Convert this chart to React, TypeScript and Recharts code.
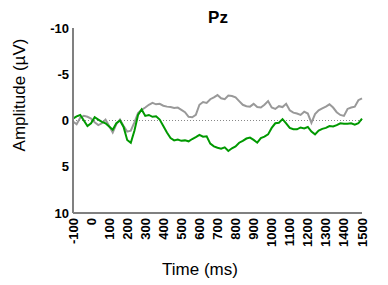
import React from 'react'
import {
  LineChart,
  Line,
  XAxis,
  YAxis,
  ReferenceLine,
  Label,
} from 'recharts'

// time points (ms)
const times = [
  -100, -80, -60, -40, -20, 0, 20, 40, 60, 80, 100, 120, 140, 160, 180, 200, 220, 240, 260, 280,
  300, 320, 340, 360, 380, 400, 420, 440, 460, 480, 500, 520, 540, 560, 580, 600, 620, 640, 660, 680,
  700, 720, 740, 760, 780, 800, 820, 840, 860, 880, 900, 920, 940, 960, 980, 1000, 1020, 1040, 1060, 1080,
  1100, 1120, 1140, 1160, 1180, 1200, 1220, 1240, 1260, 1280, 1300, 1320, 1340, 1360, 1380, 1400, 1420, 1440, 1460, 1480,
  1500,
]

// amplitude (uV), gray condition
const grayWave = [
  0.1, 0.4, -0.3, -0.5, -0.4, -0.2, 0.2, 0.5, 0.3, -0.1, 0.6, 1.3, 0.4, -0.1, 0.6, 1.2, 1.1, 0.2, -0.8, -1.15,
  -1.4, -1.7, -1.9, -1.75, -1.8, -1.6, -1.5, -1.45, -1.35, -1.4, -1.15, -0.9, -0.4, -0.35, -0.6, -1.7, -2.0, -1.9, -2.3, -2.5,
  -2.75, -2.4, -2.3, -2.7, -2.65, -2.5, -2.1, -1.7, -1.55, -1.5, -1.8, -1.45, -1.4, -1.7, -2.1, -1.4, -1.25, -1.55, -1.45, -1.8,
  -1.1, -0.85, -0.75, -0.6, -0.95, -0.75, 0.25, -0.7, -1.1, -1.3, -1.5, -1.75, -1.4, -0.9, -0.6, -0.5, -1.25, -1.4, -1.5, -2.2,
  -2.4,
]

// amplitude (uV), green condition
const greenWave = [
  -0.2, -0.45, -0.6, 0.0, 0.6, 0.3, -0.35, -0.1, 0.15, 0.3, 0.65, 1.0, 0.3, 0.0, 0.7, 2.1, 2.4, 1.1, -0.6, -1.2,
  -0.5, -0.6, -0.4, -0.45, -0.1, 0.6, 1.3, 1.9, 2.15, 2.05, 2.2, 2.15, 2.25, 2.0, 1.8, 1.55, 1.75, 1.7, 2.5, 2.8,
  2.95, 3.05, 2.9, 3.3, 3.0, 2.8, 2.4, 2.2, 1.95, 1.85, 2.1, 2.4, 1.9, 1.75, 1.5, 0.8, 0.3, 0.25, -0.15, 0.3,
  0.8, 0.95, 0.95, 0.75, 0.85, 0.7, 1.2, 1.5, 1.1, 0.9, 0.8, 0.6, 0.65, 0.5, 0.3, 0.35, 0.35, 0.3, 0.45, 0.3,
  -0.2,
]

const xTicks = [-100, 0, 100, 200, 300, 400, 500, 600, 700, 800, 900, 1000, 1100, 1200, 1300, 1400, 1500]
const yTicks = [-10, -5, 0, 5, 10]

const data = times.map((t, i) => ({ t, gray: grayWave[i], green: greenWave[i] }))

const font = 'Liberation Sans, Arial, sans-serif'

function XTick({ x, y, payload }: any) {
  return (
    <text
      x={x}
      y={y + 3}
      transform={`rotate(-90, ${x}, ${y + 3})`}
      textAnchor="end"
      dominantBaseline="central"
      fontFamily={font}
      fontWeight="bold"
      fontSize={13}
      fill="#000"
    >
      {payload.value}
    </text>
  )
}

export default function App() {
  return (
    <div style={{ position: 'absolute', left: 0, top: 0, width: 388, height: 285, background: '#fff' }}>
      <LineChart
        width={388}
        height={285}
        data={data}
        margin={{ top: 28, right: 26, bottom: 0, left: 0 }}
      >
        <XAxis
          dataKey="t"
          type="number"
          domain={[-100, 1500]}
          ticks={xTicks}
          interval={0}
          height={72}
          tickLine={false}
          tickSize={0}
          axisLine={{ stroke: '#808080', strokeWidth: 2 }}
          tick={<XTick />}
        >
          <Label
            content={() => (
              <text x={200} y={275} textAnchor="middle" fontFamily={font} fontSize={17} fill="#000">
                Time (ms)
              </text>
            )}
          />
        </XAxis>
        <YAxis
          type="number"
          domain={[-10, 10]}
          reversed
          ticks={yTicks}
          interval={0}
          width={73}
          tickLine={false}
          tickSize={0}
          tickMargin={4}
          axisLine={{ stroke: '#808080', strokeWidth: 2 }}
          tick={{ fontFamily: font, fontWeight: 'bold', fontSize: 13, fill: '#000' }}
        >
          <Label
            content={() => (
              <text
                x={19}
                y={95}
                transform="rotate(-90, 19, 95)"
                textAnchor="middle"
                dominantBaseline="central"
                fontFamily={font}
                fontSize={17}
                fill="#000"
              >
                Amplitude (µV)
              </text>
            )}
          />
        </YAxis>
        <ReferenceLine y={0} stroke="#888" strokeDasharray="1 2" strokeWidth={1} />
        <Line
          dataKey="gray"
          type="linear"
          stroke="#999999"
          strokeWidth={2}
          dot={false}
          isAnimationActive={false}
        />
        <Line
          dataKey="green"
          type="linear"
          stroke="#009900"
          strokeWidth={2}
          dot={false}
          isAnimationActive={false}
        />
        <text x={218} y={23} textAnchor="middle" fontFamily={font} fontWeight="bold" fontSize={17} fill="#000">
          Pz
        </text>
      </LineChart>
    </div>
  )
}
